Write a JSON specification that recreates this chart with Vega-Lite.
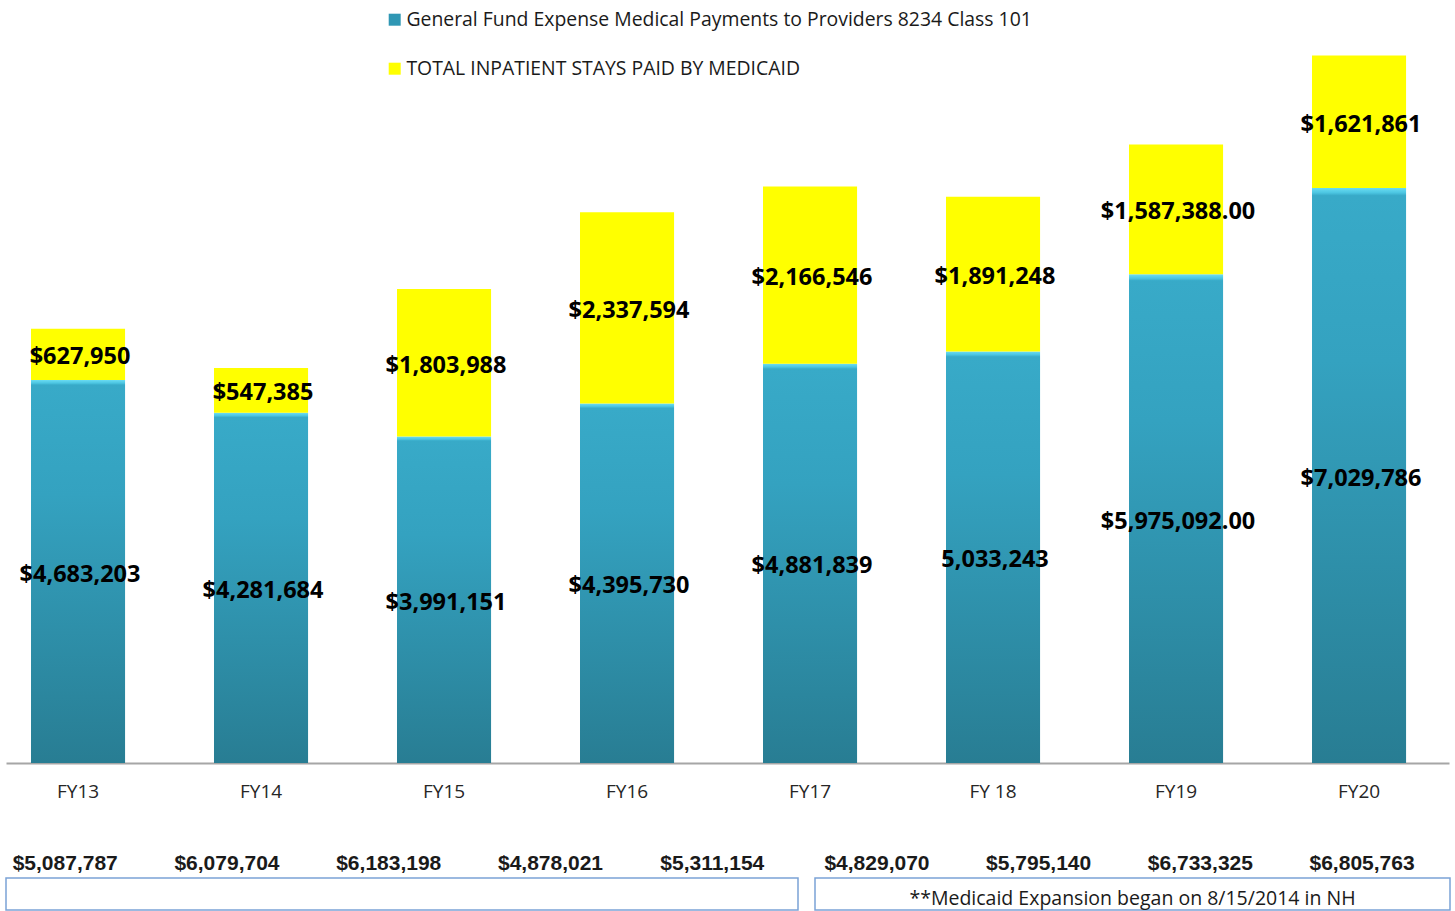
{
  "$schema": "https://vega.github.io/schema/vega-lite/v6.json",
  "background": "white",
  "padding": {"left": 5, "top": 0, "right": 0, "bottom": 0},
  "spacing": 50,
  "config": {"view": {"stroke": null}, "font": "Open Sans"},
  "vconcat": [
    {
      "width": 1443,
      "height": 763,
      "data": {
        "values": [
          {"fy": "FY13", "series": "General Fund Expense Medical Payments to Providers 8234 Class 101", "seq": 1, "amount": 4683203, "label": "$4,683,203"},
          {"fy": "FY13", "series": "TOTAL INPATIENT STAYS PAID BY MEDICAID", "seq": 2, "amount": 627950, "label": "$627,950"},
          {"fy": "FY14", "series": "General Fund Expense Medical Payments to Providers 8234 Class 101", "seq": 1, "amount": 4281684, "label": "$4,281,684"},
          {"fy": "FY14", "series": "TOTAL INPATIENT STAYS PAID BY MEDICAID", "seq": 2, "amount": 547385, "label": "$547,385"},
          {"fy": "FY15", "series": "General Fund Expense Medical Payments to Providers 8234 Class 101", "seq": 1, "amount": 3991151, "label": "$3,991,151"},
          {"fy": "FY15", "series": "TOTAL INPATIENT STAYS PAID BY MEDICAID", "seq": 2, "amount": 1803988, "label": "$1,803,988"},
          {"fy": "FY16", "series": "General Fund Expense Medical Payments to Providers 8234 Class 101", "seq": 1, "amount": 4395730, "label": "$4,395,730"},
          {"fy": "FY16", "series": "TOTAL INPATIENT STAYS PAID BY MEDICAID", "seq": 2, "amount": 2337594, "label": "$2,337,594"},
          {"fy": "FY17", "series": "General Fund Expense Medical Payments to Providers 8234 Class 101", "seq": 1, "amount": 4881839, "label": "$4,881,839"},
          {"fy": "FY17", "series": "TOTAL INPATIENT STAYS PAID BY MEDICAID", "seq": 2, "amount": 2166546, "label": "$2,166,546"},
          {"fy": "FY 18", "series": "General Fund Expense Medical Payments to Providers 8234 Class 101", "seq": 1, "amount": 5033243, "label": "5,033,243"},
          {"fy": "FY 18", "series": "TOTAL INPATIENT STAYS PAID BY MEDICAID", "seq": 2, "amount": 1891248, "label": "$1,891,248"},
          {"fy": "FY19", "series": "General Fund Expense Medical Payments to Providers 8234 Class 101", "seq": 1, "amount": 5975092, "label": "$5,975,092.00"},
          {"fy": "FY19", "series": "TOTAL INPATIENT STAYS PAID BY MEDICAID", "seq": 2, "amount": 1587388, "label": "$1,587,388.00"},
          {"fy": "FY20", "series": "General Fund Expense Medical Payments to Providers 8234 Class 101", "seq": 1, "amount": 7029786, "label": "$7,029,786"},
          {"fy": "FY20", "series": "TOTAL INPATIENT STAYS PAID BY MEDICAID", "seq": 2, "amount": 1621861, "label": "$1,621,861"}
        ]
      },
      "transform": [
        {"stack": "amount", "groupby": ["fy"], "sort": [{"field": "seq", "order": "ascending"}], "as": ["lo", "hi"]}
      ],
      "layer": [
        {
          "mark": {"type": "bar", "strokeWidth": 0},
          "encoding": {
            "x": {
              "field": "fy", "type": "nominal",
              "sort": ["FY13", "FY14", "FY15", "FY16", "FY17", "FY 18", "FY19", "FY20"],
              "scale": {"paddingInner": 0.486, "paddingOuter": 0.1856, "align": 0.368},
              "axis": {"title": null, "domainColor": "#a6a6a6", "domainWidth": 2, "ticks": false, "labelAngle": 0, "labelFont": "Open Sans", "labelFontSize": 19, "labelColor": "#262626", "labelPadding": 19}
            },
            "y": {"field": "lo", "type": "quantitative", "scale": {"domain": [0, 9330000], "nice": false}, "axis": null},
            "y2": {"field": "hi"},
            "color": {
              "condition": {
                "test": "datum.seq == 1",
                "value": {"gradient": "linear", "x1": 0, "y1": 0, "x2": 0, "y2": 1, "stops": [
                  {"offset": 0, "color": "#6bdcf2"},
                  {"offset": 0.008, "color": "#4cc6e2"},
                  {"offset": 0.013, "color": "#38aac8"},
                  {"offset": 0.3, "color": "#34a2c0"},
                  {"offset": 1, "color": "#287d93"}
                ]}
              },
              "field": "series", "type": "nominal",
              "scale": {
                "domain": ["General Fund Expense Medical Payments to Providers 8234 Class 101", "TOTAL INPATIENT STAYS PAID BY MEDICAID"],
                "range": ["#2f97b4", "#ffff00"]
              },
              "legend": {
                "title": null, "orient": "none", "legendX": 379, "legendY": 10, "direction": "vertical",
                "symbolType": "square", "symbolSize": 144, "symbolStrokeWidth": 0,
                "labelFont": "Open Sans", "labelFontSize": 19.4, "labelColor": "#1a1a1a", "labelLimit": 1000,
                "labelOffset": 2, "rowPadding": 28, "padding": 0
              }
            }
          }
        },
        {
          "transform": [
            {"fold": ["lo", "hi"], "as": ["edge", "v"]},
            {"aggregate": [{"op": "mean", "field": "v", "as": "mid"}], "groupby": ["fy", "series", "label"]}
          ],
          "mark": {"type": "text", "font": "Open Sans", "fontWeight": "bold", "fontSize": 23.5, "color": "#000000", "baseline": "middle", "align": "center", "dx": 2, "dy": 3},
          "encoding": {
            "x": {"field": "fy", "type": "nominal", "sort": ["FY13", "FY14", "FY15", "FY16", "FY17", "FY 18", "FY19", "FY20"]},
            "y": {"field": "mid", "type": "quantitative"},
            "text": {"field": "label"}
          }
        }
      ]
    },
    {
      "spacing": 15,
      "hconcat": [
        {
          "width": 792,
          "height": 32,
          "view": {"stroke": "#7ba3d6", "strokeWidth": 1.5},
          "data": {"values": [
            {"total": "$5,087,787"},
            {"total": "$6,079,704"},
            {"total": "$6,183,198"},
            {"total": "$4,878,021"},
            {"total": "$5,311,154"}
          ]},
          "mark": {"type": "point", "opacity": 0},
          "encoding": {
            "x": {
              "field": "total", "type": "nominal", "sort": null,
              "scale": {"type": "point", "padding": 0.448, "align": 0.405},
              "axis": {"orient": "top", "title": null, "domain": false, "ticks": false, "labelAngle": 0, "labelPadding": 5, "labelFont": "Liberation Sans", "labelFontWeight": "bold", "labelFontSize": 21, "labelColor": "#1a1a1a"}
            }
          }
        },
        {
          "width": 635,
          "height": 32,
          "view": {"stroke": "#7ba3d6", "strokeWidth": 1.5},
          "layer": [
            {
              "data": {"values": [
                {"total": "$4,829,070"},
                {"total": "$5,795,140"},
                {"total": "$6,733,325"},
                {"total": "$6,805,763"}
              ]},
              "mark": {"type": "point", "opacity": 0},
              "encoding": {
                "x": {
                  "field": "total", "type": "nominal", "sort": null,
                  "scale": {"type": "point", "padding": 0.4635, "align": 0.41},
                  "axis": {"orient": "top", "title": null, "domain": false, "ticks": false, "labelAngle": 0, "labelPadding": 5, "labelFont": "Liberation Sans", "labelFontWeight": "bold", "labelFontSize": 21, "labelColor": "#1a1a1a"}
                }
              }
            },
            {
              "data": {"values": [{"note": "**Medicaid Expansion began on 8/15/2014 in NH"}]},
              "mark": {"type": "text", "font": "Open Sans", "fontSize": 19.5, "color": "#1a1a1a", "align": "center", "baseline": "middle", "dy": 5},
              "encoding": {"text": {"field": "note"}}
            }
          ]
        }
      ]
    }
  ]
}
